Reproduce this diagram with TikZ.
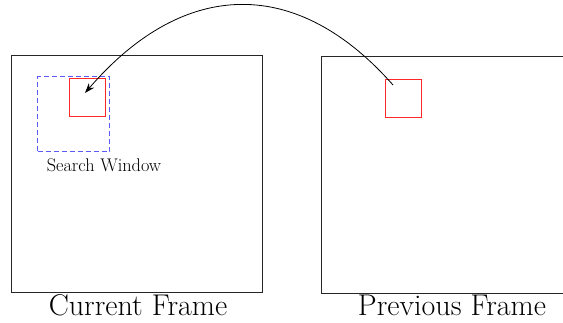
\documentclass[tikz,border=0pt]{standalone}
\usepackage{fontspec}
\usetikzlibrary{arrows.meta}
\definecolor{blockred}{RGB}{255,40,40}
\definecolor{windowblue}{RGB}{90,90,255}
\tikzset{
  frame/.style={draw=black!85, line width=0.9pt, inner sep=0pt, anchor=north west},
  block/.style={draw=blockred, line width=0.9pt, inner sep=0pt, anchor=north west, minimum width=36pt, minimum height=38pt},
  window/.style={draw=windowblue, line width=1.2pt, dash pattern=on 5pt off 3pt, inner sep=0pt, anchor=north west},
  caption/.style={font=\fontsize{30}{34}\selectfont, inner sep=0pt},
  smallcap/.style={font=\fontsize{18.3}{21}\selectfont, inner sep=0pt},
  motion/.style={-{Stealth[length=10pt,width=7pt]}, line width=0.8pt}
}
\begin{document}
\begin{tikzpicture}[x=1pt,y=-1pt]
  \useasboundingbox (0,0) rectangle (563,322);
  % current frame with its search window and matched block
  \node[frame, minimum width=251pt, minimum height=237pt] (cur) at (11,55) {};
  \node[window, minimum width=72pt, minimum height=75pt] (win) at (37,76) {};
  \node[block] (curblk) at (69,78) {};
  % previous frame (running past the right edge) with the reference block
  \draw[black!85, line width=0.9pt] (563,56) -- (321,56) -- (321,293) -- (563,293);
  \coordinate (prev) at (321,56);
  \node[block] (prevblk) at (385,79) {};
  % motion from the reference block to its match
  \coordinate (src) at ([shift={(8,6)}]prevblk.north west);
  \coordinate (dst) at ([shift={(16,15)}]curblk.north west);
  \draw[motion] (src) .. controls (298,-23) and (185,-23) .. (dst);
  % labels
  \node[smallcap] (winlbl) at (104,165) {Search Window};
  \node[caption] (curlbl) at (138,305) {Current Frame};
  \node[caption] (prevlbl) at (452,305) {Previous Frame};
\end{tikzpicture}
\end{document}
